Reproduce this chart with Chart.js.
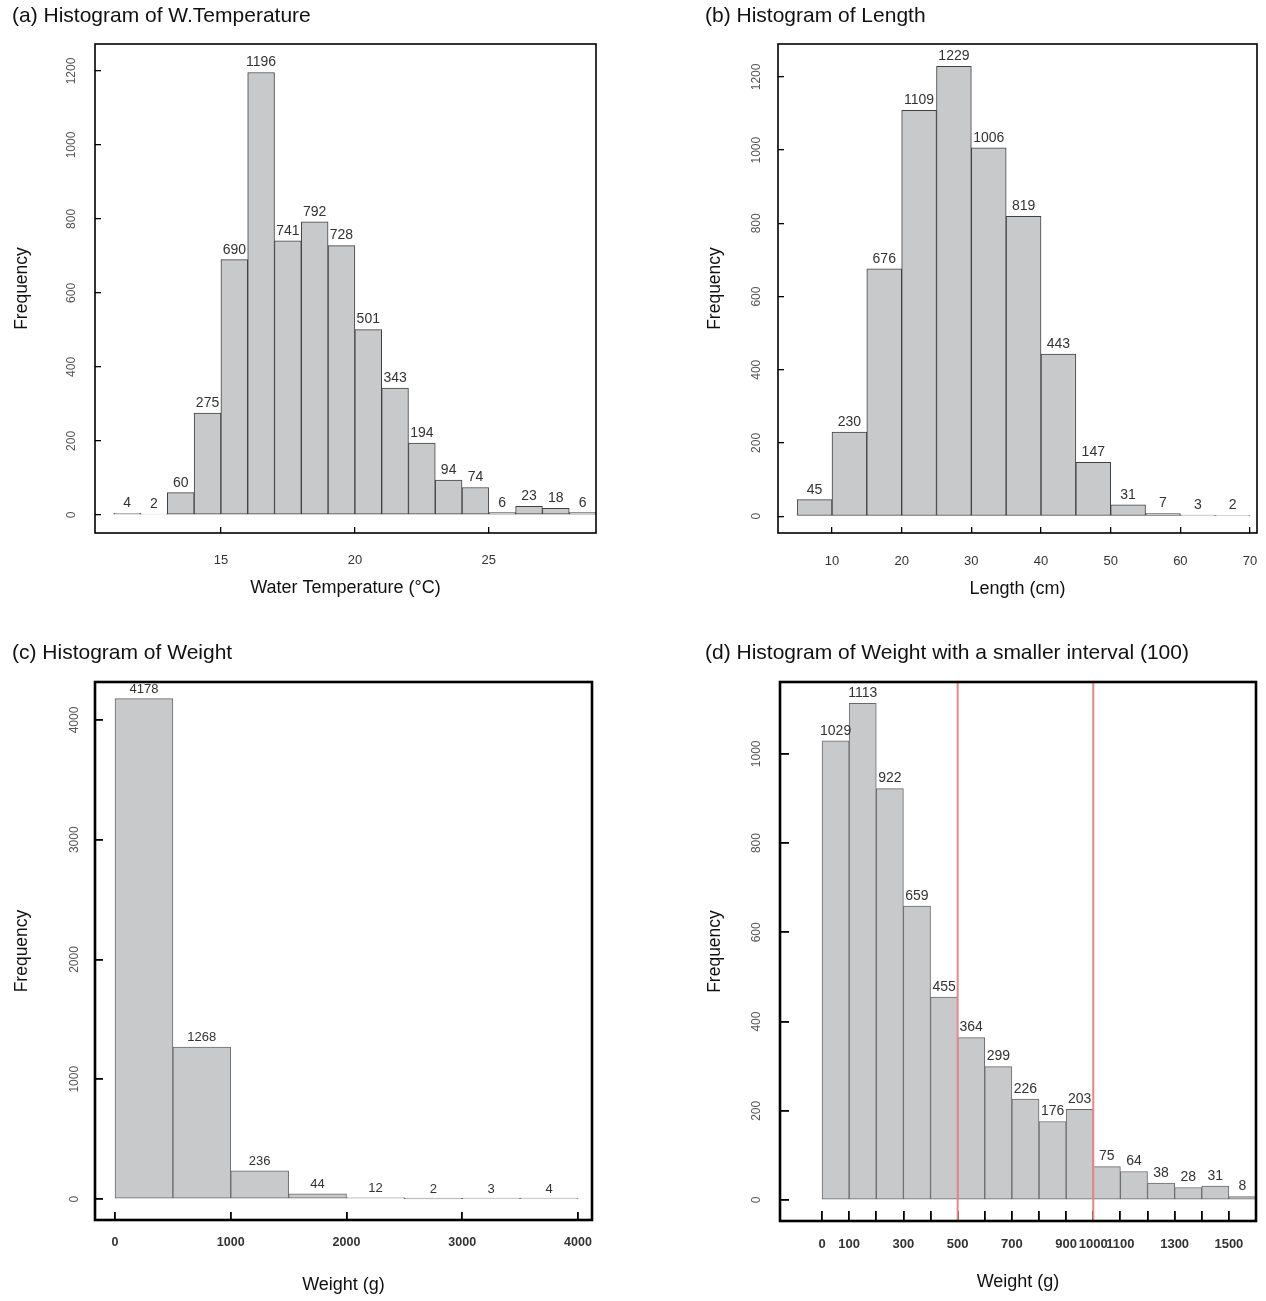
<!DOCTYPE html>
<html>
<head>
<meta charset="utf-8">
<title>Histograms</title>
<script src="https://cdn.jsdelivr.net/npm/chart.js@4"></script>
<style>
  body { margin: 0; background: #fff; overflow: hidden; }
  .panel { position: absolute; }
</style>
</head>
<body>
<div class="panel" style="left:0px;top:0px"><canvas id="chartA" width="606" height="620"></canvas></div>
<div class="panel" style="left:693px;top:0px"><canvas id="chartB" width="573" height="620"></canvas></div>
<div class="panel" style="left:0px;top:637px"><canvas id="chartC" width="602" height="664"></canvas></div>
<div class="panel" style="left:693px;top:637px"><canvas id="chartD" width="573" height="664"></canvas></div>
<script>
// (a) water temperature, 1 degree bins
const tempBinStart = [11, 12, 13, 14, 15, 16, 17, 18, 19, 20, 21, 22, 23, 24, 25, 26, 27, 28];
const tempCounts = [4, 2, 60, 275, 690, 1196, 741, 792, 728, 501, 343, 194, 94, 74, 6, 23, 18, 6];
const tempXTicks = [15, 20, 25];
const tempYTicks = [0, 200, 400, 600, 800, 1000, 1200];

// (b) length, 5 cm bins
const lenBinStart = [5, 10, 15, 20, 25, 30, 35, 40, 45, 50, 55, 60, 65];
const lenCounts = [45, 230, 676, 1109, 1229, 1006, 819, 443, 147, 31, 7, 3, 2];
const lenXTicks = [10, 20, 30, 40, 50, 60, 70];
const lenYTicks = [0, 200, 400, 600, 800, 1000, 1200];

// (c) weight, 500 g bins
const wBinStart = [0, 500, 1000, 1500, 2000, 2500, 3000, 3500];
const wCounts = [4178, 1268, 236, 44, 12, 2, 3, 4];
const wXTicks = [0, 1000, 2000, 3000, 4000];
const wYTicks = [0, 1000, 2000, 3000, 4000];

// (d) weight, 100 g bins
const w100BinStart = [0, 100, 200, 300, 400, 500, 600, 700, 800, 900, 1000, 1100, 1200, 1300, 1400, 1500];
const w100Counts = [1029, 1113, 922, 659, 455, 364, 299, 226, 176, 203, 75, 64, 38, 28, 31, 8];
const w100XTicks = [0, 100, 200, 300, 400, 500, 600, 700, 800, 900, 1000, 1100, 1200, 1300, 1400, 1500];
const w100XLabels = [0, 100, 300, 500, 700, 900, 1000, 1100, 1300, 1500];
const w100YTicks = [0, 200, 400, 600, 800, 1000];
const w100Marks = [500, 1000];

Chart.defaults.font.family = '"Liberation Sans", Arial, Helvetica, sans-serif';

// counts written above each bar (and the red reference lines)
const valueLabels = {
  id: 'valueLabels',
  afterDatasetsDraw(chart, args, opts) {
    const ctx = chart.ctx;
    const meta = chart.getDatasetMeta(0);
    const data = chart.data.datasets[0].data;
    ctx.save();
    (opts.marks || []).forEach(function (v) {
      const x = chart.scales.x.getPixelForValue(v);
      ctx.strokeStyle = '#e8868a';
      ctx.lineWidth = 2;
      ctx.beginPath();
      ctx.moveTo(x, chart.chartArea.top);
      ctx.lineTo(x, chart.chartArea.bottom);
      ctx.stroke();
    });
    ctx.font = opts.size + 'px "Liberation Sans", Arial, sans-serif';
    ctx.fillStyle = '#333';
    ctx.textAlign = 'center';
    ctx.textBaseline = 'bottom';
    meta.data.forEach(function (bar, i) {
      ctx.fillText(String(data[i].y), bar.x, bar.y - 3);
    });
    ctx.restore();
  }
};

// box round the plot region
const frame = {
  id: 'frame',
  afterDraw(chart, args, opts) {
    const a = chart.chartArea;
    const ctx = chart.ctx;
    ctx.save();
    ctx.strokeStyle = '#000';
    ctx.lineWidth = opts.width;
    ctx.strokeRect(a.left, a.top, a.right - a.left, a.bottom - a.top);
    ctx.restore();
  }
};

function makeHistogram(id, s) {
  const points = s.starts.map(function (b, i) {
    return { x: b + s.binWidth / 2, y: s.counts[i] };
  });
  return new Chart(document.getElementById(id), {
    type: 'bar',
    data: {
      datasets: [{
        data: points,
        backgroundColor: '#c8c9cb',
        borderColor: s.barBorder,
        borderWidth: 1,
        borderSkipped: false,
        barPercentage: 1,
        categoryPercentage: 1
      }]
    },
    options: {
      responsive: false,
      animation: false,
      layout: { padding: { left: 12, right: s.padRight, top: 0, bottom: 0 } },
      plugins: {
        legend: { display: false },
        tooltip: { enabled: false },
        title: {
          display: true,
          text: s.title,
          align: 'start',
          color: '#111',
          font: { size: 21, weight: 'normal' },
          padding: { top: s.titleTop, bottom: s.titleGap }
        },
        valueLabels: { size: s.valueSize, marks: s.marks },
        frame: { width: s.frameWidth }
      },
      scales: {
        x: {
          type: 'linear',
          min: s.xMin,
          max: s.xMax,
          offset: false,
          afterBuildTicks: function (scale) {
            scale.ticks = s.xTicks.map(function (v) { return { value: v }; });
          },
          afterFit: function (scale) {
            scale.height = s.xHeight;
            scale.paddingLeft = 0;
            scale.paddingRight = 0;
          },
          border: { display: false },
          grid: { drawOnChartArea: false, offset: false, tickLength: -s.xTickLen, color: '#000', lineWidth: s.tickWidth },
          ticks: {
            autoSkip: false,
            maxRotation: 0,
            padding: s.xLabelPad,
            color: '#333',
            font: s.xTickFont,
            callback: function (v) {
              return (s.xLabels || s.xTicks).indexOf(v) >= 0 ? String(v) : '';
            }
          },
          title: {
            display: true,
            text: s.xTitle,
            color: '#111',
            font: { size: 18, weight: 'normal' },
            padding: { top: 0, bottom: s.xTitlePad }
          }
        },
        y: {
          min: s.yMin,
          max: s.yMax,
          afterBuildTicks: function (scale) {
            scale.ticks = s.yTicks.map(function (v) { return { value: v }; });
          },
          afterFit: function (scale) {
            scale.width = s.yWidth;
            scale.paddingTop = 0;
            scale.paddingBottom = 0;
          },
          border: { display: false },
          grid: { drawOnChartArea: false, tickLength: -s.yTickLen, color: '#000', lineWidth: s.tickWidth },
          ticks: {
            minRotation: 90,
            maxRotation: 90,
            crossAlign: 'center',
            padding: s.yLabelPad,
            color: '#555',
            font: { size: 12 },
            callback: function (v) { return String(v); }
          },
          title: {
            display: true,
            text: 'Frequency',
            color: '#111',
            font: { size: 17.5, weight: 'normal' },
            padding: { top: 0, bottom: 0 }
          }
        }
      }
    },
    plugins: [valueLabels, frame]
  });
}

makeHistogram('chartA', {
  title: '(a) Histogram of W.Temperature', xTitle: 'Water Temperature (°C)',
  starts: tempBinStart, counts: tempCounts, binWidth: 1,
  xTicks: tempXTicks, yTicks: tempYTicks,
  xMin: 10.3, xMax: 29.0, yMin: -49, yMax: 1273,
  padRight: 10, titleTop: 3.4, titleGap: 15.4, yWidth: 83, xHeight: 87,
  xTickLen: 6, yTickLen: 6, tickWidth: 1.3, frameWidth: 1.6,
  xLabelPad: 25.2, yLabelPad: 15.7, xTitlePad: 21.2,
  xTickFont: { size: 13 },
  valueSize: 14, barBorder: '#404040'
});

makeHistogram('chartB', {
  title: '(b) Histogram of Length', xTitle: 'Length (cm)',
  starts: lenBinStart, counts: lenCounts, binWidth: 5,
  xTicks: lenXTicks, yTicks: lenYTicks,
  xMin: 2.25, xMax: 71.0, yMin: -46, yMax: 1290,
  padRight: 9, titleTop: 3.4, titleGap: 15.4, yWidth: 73, xHeight: 87,
  xTickLen: 6, yTickLen: 6, tickWidth: 1.3, frameWidth: 1.6,
  xLabelPad: 26.2, yLabelPad: 13.7, xTitlePad: 20.2,
  xTickFont: { size: 13 },
  valueSize: 14, barBorder: '#404040'
});

makeHistogram('chartC', {
  title: '(c) Histogram of Weight', xTitle: 'Weight (g)',
  starts: wBinStart, counts: wCounts, binWidth: 500,
  xTicks: wXTicks, yTicks: wYTicks,
  xMin: -173, xMax: 4121, yMin: -175, yMax: 4317,
  padRight: 10, titleTop: 3.4, titleGap: 16.4, yWidth: 83, xHeight: 81,
  xTickLen: 8, yTickLen: 8, tickWidth: 1.8, frameWidth: 2.6,
  xLabelPad: 23.2, yLabelPad: 14.7, xTitlePad: 5.2,
  xTickFont: { size: 12.5, weight: 'bold' },
  valueSize: 13, barBorder: '#6a6a6a'
});

makeHistogram('chartD', {
  title: '(d) Histogram of Weight with a smaller interval (100)', xTitle: 'Weight (g)',
  starts: w100BinStart, counts: w100Counts, binWidth: 100,
  xTicks: w100XTicks, xLabels: w100XLabels, yTicks: w100YTicks,
  xMin: -155, xMax: 1600, yMin: -47, yMax: 1161,
  padRight: 10, titleTop: 3.4, titleGap: 16.4, yWidth: 75, xHeight: 80,
  xTickLen: 10, yTickLen: 9, tickWidth: 1.8, frameWidth: 2.6,
  xLabelPad: 25.2, yLabelPad: 18.7, xTitlePad: 8.2,
  xTickFont: { size: 13, weight: 'bold' },
  valueSize: 14, barBorder: '#6a6a6a', marks: w100Marks
});
</script>
</body>
</html>
